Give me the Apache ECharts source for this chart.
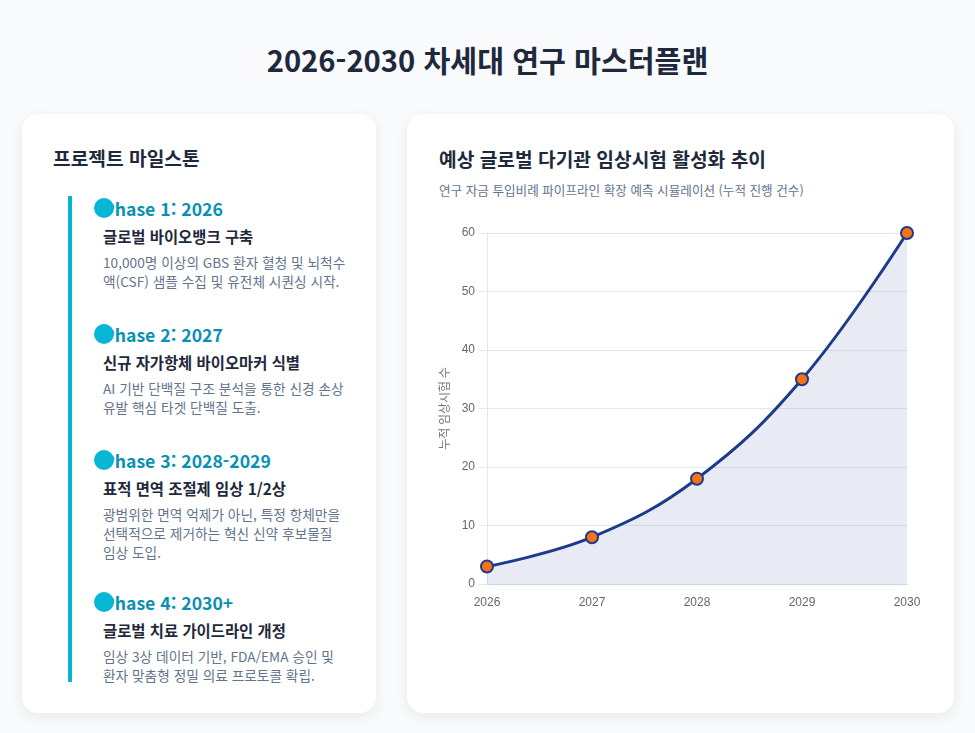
<!DOCTYPE html>
<html lang="ko">
<head>
<meta charset="utf-8">
<script src="https://cdn.jsdelivr.net/npm/echarts@6/dist/echarts.min.js"></script>
<style>
  html, body { margin:0; padding:0; }
  body { width:975px; height:733px; background:#f8fafc; position:relative; overflow:hidden;
         font-family:"Noto Sans CJK KR","Noto Sans",sans-serif; }
  h1 { position:absolute; left:0; top:39px; width:975px; margin:0; text-align:center;
       font-size:29.2px; line-height:40px; font-weight:700; color:#1e293b; }
  .card { position:absolute; top:114px; height:599px; background:#fff; border-radius:16px;
          box-shadow:0 4px 14px rgba(15,23,42,0.07); box-sizing:border-box; }
  #left { left:22px; width:354px; }
  #right { left:407px; width:547px; }
  .card h2 { position:absolute; margin:0; font-size:19.2px; line-height:24px; font-weight:700; color:#1e293b; white-space:nowrap; }
  #left h2 { left:31px; top:32px; }
  #right h2 { left:32px; top:33px; }
  #right .sub { position:absolute; left:32px; top:67px; font-size:12.6px; line-height:18px; color:#64748b; white-space:nowrap; }
  .tl-line { position:absolute; left:46px; top:82px; width:4px; height:486px; background:#06b6d4; }
  .items { position:absolute; left:81px; top:83px; width:244px; }
  .item { position:relative; height:94px; margin-bottom:32px; }
  .item.three { height:110px; }
  .dot { position:absolute; left:-9px; top:1px; width:20px; height:20px; border-radius:50%; background:#06b6d4; z-index:2; }
  .phase { font-size:17.6px; line-height:24px; font-weight:700; color:#0891b2; white-space:nowrap; }
  .ttl { margin-top:4px; font-size:15.4px; line-height:22px; font-weight:700; color:#1e293b; white-space:nowrap; }
  .desc { margin-top:6px; font-size:13.7px; line-height:19px; color:#64748b; }
  #chart { position:absolute; left:18px; top:101px; width:515px; height:400px; }
</style>
</head>
<body>
<h1>2026-2030 차세대 연구 마스터플랜</h1>

<div class="card" id="left">
  <h2>프로젝트 마일스톤</h2>
  <div class="tl-line"></div>
  <div class="items" id="items"></div>
</div>

<div class="card" id="right">
  <h2>예상 글로벌 다기관 임상시험 활성화 추이</h2>
  <div class="sub">연구 자금 투입비례 파이프라인 확장 예측 시뮬레이션 (누적 진행 건수)</div>
  <div id="chart"></div>
</div>

<script>
const phases = ["Phase 1: 2026", "Phase 2: 2027", "Phase 3: 2028-2029", "Phase 4: 2030+"];
const phaseTitles = ["글로벌 바이오뱅크 구축", "신규 자가항체 바이오마커 식별", "표적 면역 조절제 임상 1/2상", "글로벌 치료 가이드라인 개정"];
const phaseDescs = [
  "10,000명 이상의 GBS 환자 혈청 및 뇌척수액(CSF) 샘플 수집 및 유전체 시퀀싱 시작.",
  "AI 기반 단백질 구조 분석을 통한 신경 손상 유발 핵심 타겟 단백질 도출.",
  "광범위한 면역 억제가 아닌, 특정 항체만을 선택적으로 제거하는 혁신 신약 후보물질 임상 도입.",
  "임상 3상 데이터 기반, FDA/EMA 승인 및 환자 맞춤형 정밀 의료 프로토콜 확립."
];
const years = ["2026", "2027", "2028", "2029", "2030"];
const trials = [3, 8, 18, 35, 60];
const yTicks = [0, 10, 20, 30, 40, 50, 60];

const wrap = document.getElementById('items');
phases.forEach((p, i) => {
  const it = document.createElement('div');
  it.className = 'item' + (i === 2 ? ' three' : '');
  it.innerHTML = '<div class="dot"></div><div class="phase"></div><div class="ttl"></div><div class="desc"></div>';
  it.querySelector('.phase').textContent = p;
  it.querySelector('.ttl').textContent = phaseTitles[i];
  it.querySelector('.desc').textContent = phaseDescs[i];
  wrap.appendChild(it);
});

const chart = echarts.init(document.getElementById('chart'));
chart.setOption({
  animation: false,
  grid: { left: 62, right: 33, top: 18, bottom: 31, containLabel: false },
  xAxis: {
    type: 'category', data: years, boundaryGap: false,
    axisLine: { show: true, lineStyle: { color: '#cbd5e1', width: 1 } },
    axisTick: { show: false },
    axisLabel: { color: '#666', fontSize: 12, margin: 13, fontFamily: 'Liberation Sans, Arial, sans-serif' },
    splitLine: { show: false }
  },
  yAxis: {
    type: 'value', min: yTicks[0], max: yTicks[yTicks.length - 1], interval: 10,
    name: '누적 임상시험 수', nameLocation: 'middle', nameGap: 33, nameRotate: 90,
    nameTextStyle: { color: '#777', fontSize: 12, fontFamily: 'Noto Sans CJK KR, sans-serif' },
    axisLine: { show: true, lineStyle: { color: '#e2e8f0' } },
    axisTick: { show: true, length: 8, lineStyle: { color: '#e2e8f0' } },
    axisLabel: { color: '#666', fontSize: 12, margin: 12, fontFamily: 'Liberation Sans, Arial, sans-serif' },
    splitLine: { show: true, lineStyle: { color: '#e2e8f0' } }
  },
  series: [{
    type: 'line', data: trials, smooth: 0.4,
    lineStyle: { color: '#1e3a8a', width: 3 },
    areaStyle: { color: 'rgba(30,58,138,0.1)', opacity: 1 },
    symbol: 'circle', symbolSize: 12,
    itemStyle: { color: '#f97316', borderColor: '#1e3a8a', borderWidth: 2 }
  }]
});
</script>
</body>
</html>
